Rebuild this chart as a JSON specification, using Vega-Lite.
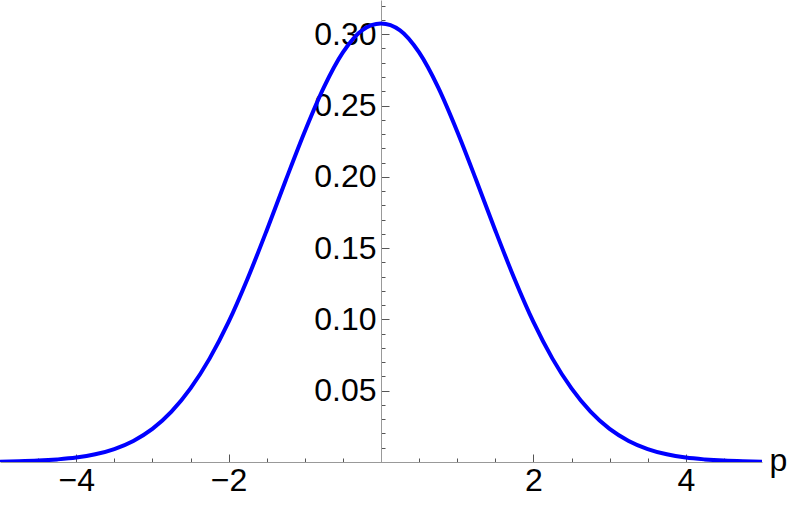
{
  "$schema": "https://vega.github.io/schema/vega-lite/v6.json",
  "autosize": {"type": "none"},
  "width": 762,
  "height": 462,
  "padding": {"left": 0, "top": 0, "right": 31, "bottom": 43},
  "background": "white",
  "config": {
    "view": {"stroke": null},
    "font": "Liberation Sans",
    "axis": {"grid": false, "labelFont": "Liberation Sans", "titleFont": "Liberation Sans"}
  },
  "data": {
    "values": [
      {"p": -5, "v": 0.00025}, {"p": -4.75, "v": 0.0005}, {"p": -4.5, "v": 0.00097},
      {"p": -4.25, "v": 0.0018}, {"p": -4, "v": 0.0031}, {"p": -3.75, "v": 0.0054},
      {"p": -3.5, "v": 0.0091}, {"p": -3.25, "v": 0.0148}, {"p": -3, "v": 0.0232},
      {"p": -2.75, "v": 0.0353}, {"p": -2.5, "v": 0.0516}, {"p": -2.25, "v": 0.0725},
      {"p": -2, "v": 0.0982}, {"p": -1.75, "v": 0.1287}, {"p": -1.5, "v": 0.1624},
      {"p": -1.25, "v": 0.1976}, {"p": -1, "v": 0.2318}, {"p": -0.75, "v": 0.2627},
      {"p": -0.5, "v": 0.2872}, {"p": -0.25, "v": 0.3027}, {"p": 0, "v": 0.3075},
      {"p": 0.25, "v": 0.3027}, {"p": 0.5, "v": 0.2872}, {"p": 0.75, "v": 0.2627},
      {"p": 1, "v": 0.2318}, {"p": 1.25, "v": 0.1976}, {"p": 1.5, "v": 0.1624},
      {"p": 1.75, "v": 0.1287}, {"p": 2, "v": 0.0982}, {"p": 2.25, "v": 0.0725},
      {"p": 2.5, "v": 0.0516}, {"p": 2.75, "v": 0.0353}, {"p": 3, "v": 0.0232},
      {"p": 3.25, "v": 0.0148}, {"p": 3.5, "v": 0.0091}, {"p": 3.75, "v": 0.0054},
      {"p": 4, "v": 0.0031}, {"p": 4.25, "v": 0.0018}, {"p": 4.5, "v": 0.00097},
      {"p": 4.75, "v": 0.0005}, {"p": 5, "v": 0.00025}
    ]
  },
  "resolve": {"axis": {"x": "independent", "y": "independent"}},
  "layer": [
    {
      "mark": {"type": "line", "opacity": 0, "strokeWidth": 1},
      "encoding": {
        "x": {
          "field": "p", "type": "quantitative",
          "scale": {"domain": [-5, 5], "nice": false, "zero": false},
          "axis": {
            "orient": "bottom",
            "values": [-4.5, -4, -3.5, -3, -2.5, -2, -1.5, -1, -0.5, 0.5, 1, 1.5, 2, 2.5, 3, 3.5, 4, 4.5],
            "labels": false, "domain": false, "tickSize": -4, "tickColor": "#555", "tickWidth": 1, "title": null
          }
        },
        "y": {
          "field": "v", "type": "quantitative",
          "scale": {"domain": [0, 0.324], "nice": false},
          "axis": {
            "orient": "left", "offset": -381,
            "values": [0.01, 0.02, 0.03, 0.04, 0.05, 0.06, 0.07, 0.08, 0.09, 0.1, 0.11, 0.12, 0.13, 0.14, 0.15, 0.16, 0.17, 0.18, 0.19, 0.2, 0.21, 0.22, 0.23, 0.24, 0.25, 0.26, 0.27, 0.28, 0.29, 0.3, 0.31, 0.32],
            "labels": false, "domain": false, "tickSize": -4, "tickColor": "#555", "tickWidth": 1, "title": null
          }
        }
      }
    },
    {
      "mark": {"type": "line", "color": "#0000ff", "strokeWidth": 4, "interpolate": "monotone", "clip": true},
      "encoding": {
        "x": {
          "field": "p", "type": "quantitative",
          "axis": {
            "orient": "bottom",
            "values": [-4, -2, 2, 4],
            "tickSize": -8, "tickColor": "#555", "tickWidth": 1,
            "domainColor": "#999", "domainWidth": 1,
            "labelPadding": 11, "labelFontSize": 32, "labelColor": "black",
            "title": "p", "titleFontSize": 32, "titleFontWeight": "normal", "titleColor": "black",
            "titleX": 769, "titleY": 8, "titleAlign": "left", "titleBaseline": "alphabetic", "titleAnchor": null
          }
        },
        "y": {
          "field": "v", "type": "quantitative",
          "axis": {
            "orient": "left", "offset": -381,
            "values": [0.05, 0.1, 0.15, 0.2, 0.25, 0.3],
            "format": ".2f",
            "tickSize": -8, "tickColor": "#555", "tickWidth": 1,
            "domainColor": "#999", "domainWidth": 1,
            "labelPadding": 13, "labelFontSize": 32, "labelColor": "black",
            "title": null
          }
        }
      }
    }
  ]
}
